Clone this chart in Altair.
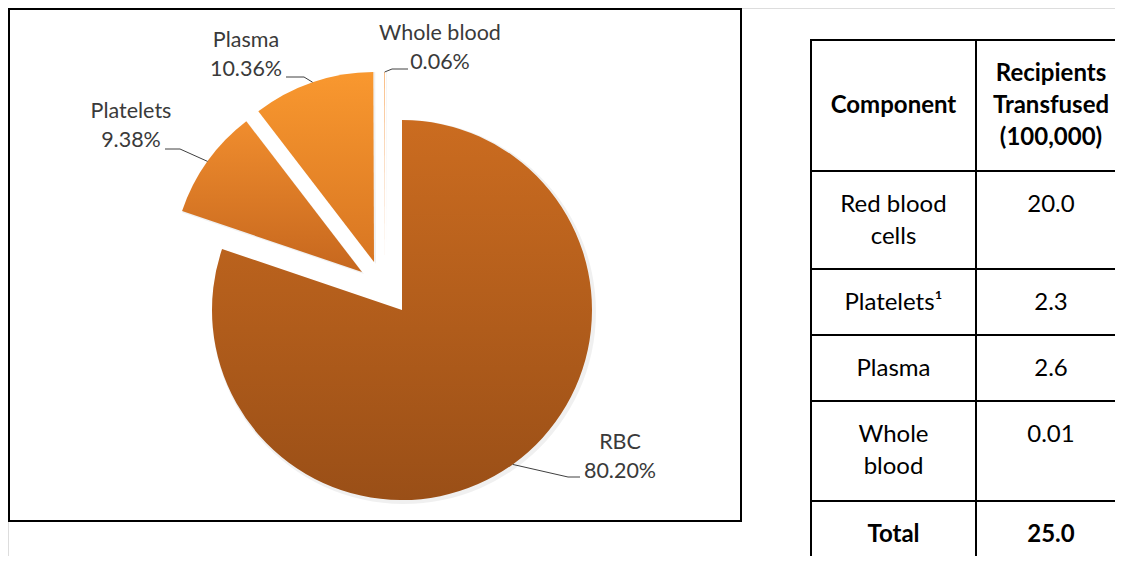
import altair as alt
import pandas as pd

# ---------------- data ----------------
categories = ["RBC", "Platelets", "Plasma", "Whole blood"]
percent = [80.20, 9.38, 10.36, 0.06]

table_header = ["Component", "Recipients\nTransfused\n(100,000)"]
components = ["Red blood\ncells", "Platelets¹", "Plasma", "Whole\nblood"]
recipients = [20.0, 2.3, 2.6, 0.01]
total_label = "Total"
total_value = 25.0

# ---------------- style / layout (page pixels) ----------------
OX, OY = 8, 8                 # page margin -> chart origin
W, H = 1107, 548
PIE_CX, PIE_CY, PIE_R = 402, 310, 190
explode_dx = [0, -40, -28, -17]
explode_dy = [0, -38, -48, -48]
label_x = [620, 131, 246, 440]
label_y = [449, 118, 47, 40]          # baseline of first label line
leader_x1 = [580, 165, 286, 408]
leader_x2 = [568, 180, 304, 392]
leader_y = [477, 149, 77, 69]
slice_colors = [
    ("#CB6C20", "#9A4F17"),
    ("#F08D2E", "#C6671E"),
    ("#F9982F", "#D87622"),
    ("#F8A455", "#F0B080"),
]
LABEL_FONT = "Lato"
box = (9, 9, 741, 521)
table_cols = [811, 976, 1130]
table_rows = [40, 171, 269, 335, 401, 501, 570]

# ---------------- pie ----------------
pie_df = pd.DataFrame({
    "idx": list(range(len(categories))),
    "cat": categories,
    "value": percent,
    "ox": [PIE_CX + d - OX for d in explode_dx],
    "oy": [PIE_CY + d - OY for d in explode_dy],
    "lx": [v - OX for v in label_x],
    "ly": [v - OY for v in label_y],
    "l1x": [v - OX for v in leader_x1],
    "l2x": [v - OX for v in leader_x2],
    "l1y": [v - OY for v in leader_y],
})

base = (
    alt.Chart(pie_df)
    .transform_window(cum="sum(value)", sort=[alt.SortField("idx")], frame=[None, 0])
    .transform_joinaggregate(total="sum(value)")
    .transform_calculate(
        t0="2*PI*(datum.cum - datum.value)/datum.total",
        t1="2*PI*datum.cum/datum.total",
    )
    .transform_calculate(mid="(datum.t0 + datum.t1)/2")
    .transform_calculate(
        ex=f"datum.ox + {PIE_R}*sin(datum.mid)",
        ey=f"datum.oy - {PIE_R}*cos(datum.mid)",
        label="datum.cat + '\\n' + format(datum.value, '.2f') + '%'",
    )
)

slices = []
for cat, (c0, c1) in zip(categories, slice_colors):
    grad = alt.Gradient(
        gradient="linear",
        stops=[alt.GradientStop(color=c0, offset=0), alt.GradientStop(color=c1, offset=1)],
        x1=0, x2=0, y1=0, y2=1,
    )
    enc = dict(
        x=alt.X("ox:Q", scale=None),
        y=alt.Y("oy:Q", scale=None),
        theta=alt.Theta("t0:Q", scale=None, stack=False),
        theta2=alt.Theta2("t1:Q"),
    )
    shadow = base.transform_filter(f"datum.cat == '{cat}'").mark_arc(
        outerRadius=PIE_R + 2, fill="#000000", opacity=0.06, xOffset=2, yOffset=2
    ).encode(**enc)
    arc = base.transform_filter(f"datum.cat == '{cat}'").mark_arc(
        outerRadius=PIE_R, fill=grad
    ).encode(**enc)
    slices += [shadow, arc]

lead1 = base.mark_rule(color="#404040", strokeWidth=1).encode(
    x=alt.X("l1x:Q", scale=None), x2="l2x:Q",
    y=alt.Y("l1y:Q", scale=None), y2="l1y:Q",
)
lead2 = base.mark_rule(color="#404040", strokeWidth=1).encode(
    x=alt.X("l2x:Q", scale=None), x2="ex:Q",
    y=alt.Y("l1y:Q", scale=None), y2="ey:Q",
)
labels = base.mark_text(
    lineBreak="\n", lineHeight=28.5, align="center", baseline="alphabetic",
    font=LABEL_FONT, fontSize=21.5, color="#3A3A3A",
).encode(
    x=alt.X("lx:Q", scale=None),
    y=alt.Y("ly:Q", scale=None),
    text="label:N",
)

box_df = pd.DataFrame({"x": [box[0] - OX], "y": [box[1] - OY],
                       "x2": [box[2] - OX], "y2": [box[3] - OY]})
frame = alt.Chart(box_df).mark_rect(fill=None, stroke="black", strokeWidth=2).encode(
    x=alt.X("x:Q", scale=None), x2="x2:Q",
    y=alt.Y("y:Q", scale=None), y2="y2:Q",
)

# ---------------- table ----------------
def fmt(v):
    return f"{v:.2f}" if v < 0.1 else f"{v:.1f}"

lines = []
for yv in table_rows:
    lines.append({"x": table_cols[0] - 1 - OX, "x2": table_cols[-1] - OX,
                  "y": yv - OY, "y2": yv - OY})
for xv in table_cols:
    lines.append({"x": xv - OX, "x2": xv - OX,
                  "y": table_rows[0] - 1 - OY, "y2": table_rows[-1] - OY})
grid = alt.Chart(pd.DataFrame(lines)).mark_rule(color="black", strokeWidth=2).encode(
    x=alt.X("x:Q", scale=None), x2="x2:Q",
    y=alt.Y("y:Q", scale=None), y2="y2:Q",
)

col_c = [(table_cols[0] + table_cols[1]) / 2, 1051]
LH = 32
cells = []
hc = (table_rows[0] + table_rows[1]) / 2
for j, t in enumerate(table_header):
    n = t.count("\n")
    cells.append({"t": t, "x": col_c[j] - OX, "y": hc - n * LH / 2 - OY, "bold": True})
body_left = components + [total_label]
body_right = [fmt(v) for v in recipients] + [fmt(total_value)]
for i, (a, b) in enumerate(zip(body_left, body_right)):
    top = table_rows[i + 1] + 34
    bold = (i == len(body_left) - 1)
    cells.append({"t": a, "x": col_c[0] - OX, "y": top - OY, "bold": bold})
    cells.append({"t": b, "x": col_c[1] - OX, "y": top - OY, "bold": bold})
cells_df = pd.DataFrame(cells)

txt_norm = alt.Chart(cells_df).transform_filter("!datum.bold").mark_text(
    lineBreak="\n", lineHeight=LH, align="center", baseline="middle",
    font=LABEL_FONT, fontSize=24, color="black",
).encode(x=alt.X("x:Q", scale=None), y=alt.Y("y:Q", scale=None), text="t:N")
txt_bold = alt.Chart(cells_df).transform_filter("datum.bold").mark_text(
    lineBreak="\n", lineHeight=LH, align="center", baseline="middle",
    font=LABEL_FONT, fontSize=24, fontWeight="bold", color="black",
).encode(x=alt.X("x:Q", scale=None), y=alt.Y("y:Q", scale=None), text="t:N")

chart = alt.layer(frame, *slices, lead1, lead2, labels, grid, txt_norm, txt_bold).properties(
    width=W, height=H,
    autosize=alt.AutoSizeParams(type="none"),
    padding=0,
).configure_view(stroke="transparent", strokeWidth=0).configure(background="white")

chart.save("out.html", embed_options={"renderer": "svg", "actions": False})
